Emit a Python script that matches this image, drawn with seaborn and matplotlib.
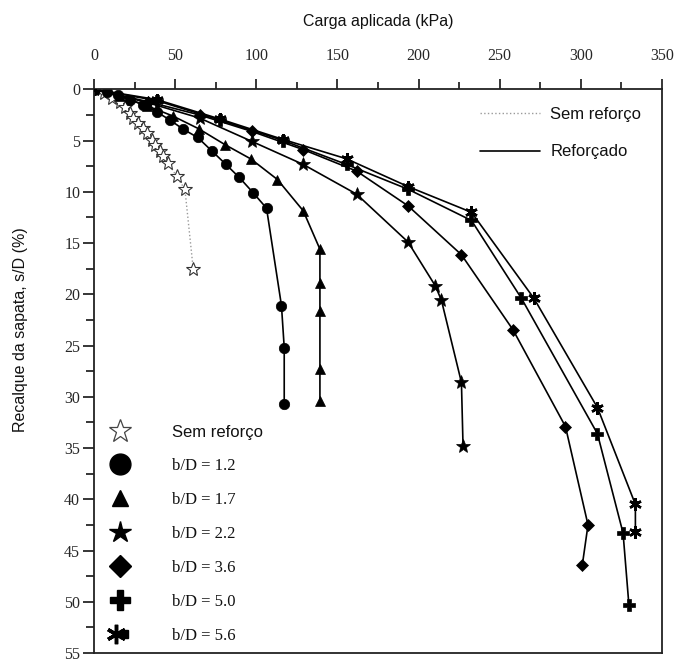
import numpy as np
import pandas as pd
import matplotlib
matplotlib.use("Agg")
import matplotlib.pyplot as plt
import seaborn as sns
from matplotlib.lines import Line2D
from matplotlib.legend_handler import HandlerTuple
from matplotlib.ticker import MultipleLocator

# ---------------- data (load kPa, settlement s/D %) ----------------
sem_x = [0, 6, 11, 16.0, 19.1, 22.2, 24.2, 27.3, 30.4, 32.4, 35.5, 37.6, 40.6, 42.7, 45.8, 50.9, 56.0, 61.1]
sem_y = [0, 0.4, 0.8, 1.2, 1.7, 2.3, 2.8, 3.3, 3.8, 4.3, 4.9, 5.4, 6.0, 6.5, 7.2, 8.5, 9.75, 17.5]

b12_x = [0, 8, 15, 22, 30.4, 38.6, 46.8, 55.0, 63.9, 72.5, 81.1, 89.5, 98.1, 106.3, 115.5, 117.2, 117.2]
b12_y = [0, 0.3, 0.6, 1.0, 1.5, 2.2, 3.0, 3.9, 4.7, 6.0, 7.3, 8.6, 10.1, 11.6, 21.1, 25.2, 30.7]

b17_x = [0, 16, 32.5, 48.5, 64.5, 80.7, 96.7, 113.0, 128.9, 139.2, 139.2, 139.2, 139.2, 139.2]
b17_y = [0, 0.7, 1.6, 2.6, 3.85, 5.4, 6.8, 8.8, 11.85, 15.6, 18.85, 21.6, 27.3, 30.4]

b22_x = [0, 33, 65, 97.1, 128.9, 161.8, 193.5, 210.4, 214.1, 226.4, 227.4]
b22_y = [0, 1.3, 2.8, 5.07, 7.33, 10.23, 14.9, 19.2, 20.6, 28.6, 34.85]

b36_x = [0, 33, 65, 97.1, 128.9, 161.8, 193.5, 226.4, 258.2, 290.5, 304.4, 300.9]
b36_y = [0, 1.2, 2.5, 4.1, 5.88, 7.98, 11.37, 16.14, 23.47, 32.9, 42.5, 46.4]

b50_x = [0, 38.6, 77.6, 116.6, 155.6, 193.5, 232.6, 263.4, 310.2, 326.0, 329.6]
b50_y = [0, 1.1, 3.0, 5.0, 7.33, 9.75, 12.8, 20.4, 33.6, 43.3, 50.3]

b56_x = [0, 38.6, 77.6, 116.6, 155.6, 193.5, 232.6, 271.1, 310.2, 333.6, 333.6]
b56_y = [0, 1.0, 2.9, 4.9, 6.78, 9.49, 12.0, 20.4, 31.05, 40.5, 43.2]

x_ticks = [0, 50, 100, 150, 200, 250, 300, 350]
x_ticklabels = ["0", "50", "100", "150", "200", "250", "300", "350"]
y_ticks = [0, 5, 10, 15, 20, 25, 30, 35, 40, 45, 50, 55]
y_ticklabels = ["0", "5", "10", "15", "20", "25", "30", "35", "40", "45", "50", "55"]

legend_labels = ["Sem reforço", "b/D = 1.2", "b/D = 1.7", "b/D = 2.2",
                 "b/D = 3.6", "b/D = 5.0", "b/D = 5.6"]
line_legend_labels = ["Sem reforço", "Reforçado"]

xlabel = "Carga aplicada (kPa)"
ylabel = "Recalque da sapata, s/D (%)"

# ---------------- plotting ----------------
sns.set_theme(style="white")
plt.rcParams["font.family"] = ["Liberation Sans", "DejaVu Sans"]
SERIF = ["Liberation Serif", "DejaVu Serif"]

fig = plt.figure(figsize=(6.76, 6.66), dpi=100)
ax = fig.add_axes([0.1391, 0.0195, 0.8402, 0.8464])

LW = 1.2
# unreinforced
sns.lineplot(x=sem_x, y=sem_y, ax=ax, sort=False, estimator=None, color="#9a9a9a",
             lw=1.0, linestyle=":", marker="*", markersize=10,
             markerfacecolor="white", markeredgecolor="#333333", markeredgewidth=0.8,
             legend=False)

styles = [
    (b12_x, b12_y, "o", 7.5),
    (b17_x, b17_y, "^", 7.5),
    (b22_x, b22_y, "*", 10),
    (b36_x, b36_y, "D", 6.5),
    (b50_x, b50_y, "P", 9),
]
for xs, ys, mk, ms in styles:
    sns.lineplot(x=xs, y=ys, ax=ax, sort=False, estimator=None, color="black",
                 lw=LW, marker=mk, markersize=ms, markerfacecolor="black",
                 markeredgecolor="black", markeredgewidth=0.5, legend=False)

# b/D = 5.6: asterisk with small square core
sns.lineplot(x=b56_x, y=b56_y, ax=ax, sort=False, estimator=None, color="black",
             lw=LW, marker=(6, 2, 0), markersize=9, markeredgecolor="black",
             markeredgewidth=1.8, legend=False)
sns.scatterplot(x=b56_x, y=b56_y, ax=ax, marker="s", s=22, color="black",
                edgecolor="black", linewidth=0, legend=False, zorder=3)

# axes
ax.set_xlim(0, 350)
ax.set_ylim(55, 0)
ax.xaxis.tick_top()
ax.xaxis.set_label_position("top")
ax.set_xticks(x_ticks)
ax.set_xticklabels(x_ticklabels, fontfamily=SERIF, fontsize=11.5)
ax.set_yticks(y_ticks)
ax.set_yticklabels(y_ticklabels, fontfamily=SERIF, fontsize=11.5)
ax.xaxis.set_minor_locator(MultipleLocator(25))
ax.yaxis.set_minor_locator(MultipleLocator(2.5))
ax.tick_params(axis="x", which="both", top=True, bottom=False, labeltop=True,
               labelbottom=False, direction="out", color="black", width=1.1)
ax.tick_params(axis="x", which="major", length=7, pad=11)
ax.tick_params(axis="x", which="minor", length=5)
ax.tick_params(axis="y", which="both", left=True, right=False, direction="out",
               color="black", width=1.1)
ax.tick_params(axis="y", which="major", length=8, pad=2)
ax.tick_params(axis="y", which="minor", length=6)
for sp in ax.spines.values():
    sp.set_color("#222222")
    sp.set_linewidth(1.3)

ax.set_xlabel(xlabel, fontsize=11.5, color="#111111")
ax.xaxis.set_label_coords(0.5, 1.121)
ax.xaxis.label.set_verticalalignment("center")
ax.set_ylabel(ylabel, fontsize=11.5, color="#111111")
ax.yaxis.set_label_coords(-0.130, 0.574)
ax.yaxis.label.set_verticalalignment("center")

# marker legend (bottom-left)
h_sem = Line2D([], [], ls="none", marker="*", markersize=17, markerfacecolor="white",
               markeredgecolor="#444444", markeredgewidth=0.9)
h12 = Line2D([], [], ls="none", marker="o", markersize=15, color="black")
h17 = Line2D([], [], ls="none", marker="^", markersize=12, color="black")
h22 = Line2D([], [], ls="none", marker="*", markersize=16, color="black")
h36 = Line2D([], [], ls="none", marker="D", markersize=11, color="black")
h50 = Line2D([], [], ls="none", marker="P", markersize=14, color="black")
h56a = Line2D([], [], ls="none", marker=(6, 2, 0), markersize=14, color="black",
              markeredgewidth=2.5)
h56b = Line2D([], [], ls="none", marker="s", markersize=6, color="black")
leg1 = ax.legend([h_sem, h12, h17, h22, h36, h50, (h56a, h56b)], legend_labels,
                 handler_map={tuple: HandlerTuple(ndivide=None, pad=0)},
                 loc="upper left", bbox_to_anchor=(0.031, 0.404), borderaxespad=0,
                 borderpad=0, frameon=False, fontsize=12, handlelength=1.0,
                 handletextpad=2.6, labelspacing=1.08)
for i, t in enumerate(leg1.get_texts()):
    t.set_fontfamily(["Liberation Sans", "DejaVu Sans"] if i == 0 else SERIF)
    t.set_color("#111111")
ax.add_artist(leg1)

# line legend (top-right)
l_sem = Line2D([], [], color="#9a9a9a", lw=1.0, ls=":")
l_ref = Line2D([], [], color="black", lw=1.2)
leg2 = ax.legend([l_sem, l_ref], line_legend_labels, loc="upper left",
                 bbox_to_anchor=(0.68, 0.969), borderaxespad=0, borderpad=0,
                 frameon=False, fontsize=12, handlelength=3.6, handletextpad=0.6,
                 labelspacing=1.36)
for t in leg2.get_texts():
    t.set_color("#111111")

fig.savefig("out.png", dpi=100)
